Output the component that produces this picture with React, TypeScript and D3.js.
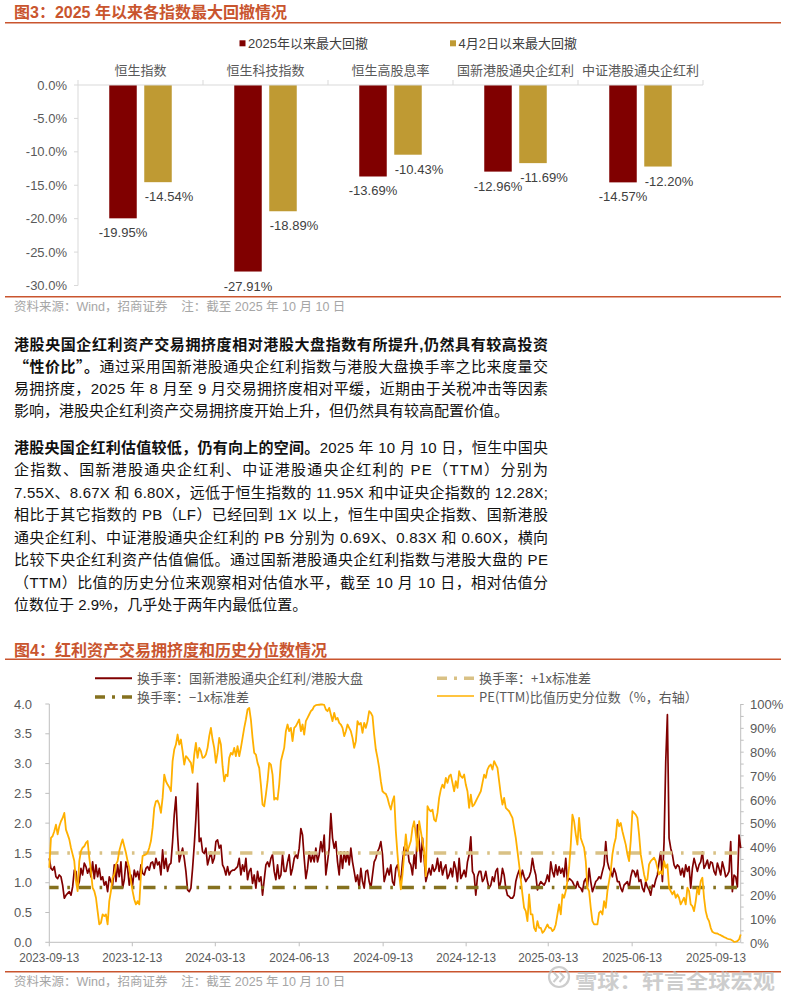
import React from 'react';
import * as d3 from 'd3';

// ---------- Figure 3 data ----------
const categories = ['恒生指数', '恒生科技指数', '恒生高股息率', '国新港股通央企红利', '中证港股通央企红利'];
const drawdownSince2025 = [-19.95, -27.91, -13.69, -12.96, -14.57];
const drawdownSinceApr2 = [-14.54, -18.89, -10.43, -11.69, -12.2];
const barSeriesNames = ['2025年以来最大回撤', '4月2日以来最大回撤'];
const barTicks = [0, -5, -10, -15, -20, -25, -30];

// ---------- Figure 4 data ----------
const startDate = '2023-09-13';
const endDate = '2025-10-10';
const dateTicks = ['2023-09-13', '2023-12-13', '2024-03-13', '2024-06-13', '2024-09-13', '2024-12-13', '2025-03-13', '2025-06-13', '2025-09-13'];
const leftTicks = [0, 0.5, 1, 1.5, 2, 2.5, 3, 3.5, 4];
const rightTicks = [0, 10, 20, 30, 40, 50, 60, 70, 80, 90, 100];
const plusOneStd = 1.5;
const minusOneStd = 0.92;
const legend4 = ['换手率：国新港股通央企红利/港股大盘', '换手率：+1x标准差', '换手率：−1x标准差', 'PE(TTM)比值历史分位数（%，右轴）'];

// turnover ratio (left axis), evenly spaced from startDate to endDate
const turnoverRatio = [
  1.41, 1.24, 1.21, 1.27, 1.10, 1.07, 1.13, 1.10, 0.96, 0.74,
  0.79, 0.82, 0.85, 0.79, 0.93, 1.21, 1.19, 0.93, 1.02, 1.24,
  1.13, 1.33, 1.27, 1.16, 1.24, 1.10, 1.35, 1.07, 1.30, 1.10,
  1.24, 1.05, 1.10, 0.96, 1.02, 0.85, 1.10, 1.02, 0.96, 1.30,
  1.02, 1.30, 1.10, 1.35, 0.91, 1.05, 1.35, 1.24, 0.96, 1.13,
  0.96, 1.21, 1.10, 1.19, 1.05, 1.30, 1.16, 1.13, 1.24, 1.27,
  1.21, 1.33, 1.35, 1.24, 1.41, 1.30, 1.35, 1.13, 1.55, 1.24,
  1.41, 1.19, 1.30, 1.33, 1.69, 2.14, 2.44, 1.80, 1.35, 1.47,
  1.58, 1.41, 1.19, 0.88, 0.85, 0.91, 1.24, 1.63, 2.08, 2.67,
  1.69, 1.75, 1.52, 1.49, 1.58, 1.30, 1.41, 1.52, 1.33, 1.41,
  1.69, 1.72, 1.58, 1.63, 1.30, 1.24, 1.13, 1.27, 1.13, 1.19,
  1.21, 1.21, 1.24, 1.27, 1.41, 1.13, 1.30, 1.19, 1.41, 1.05,
  1.19, 1.24, 0.99, 1.13, 0.91, 1.19, 1.02, 1.10, 0.79, 1.05,
  1.30, 1.35, 1.27, 1.41, 1.47, 1.19, 1.05, 1.30, 1.07, 1.13,
  1.47, 1.19,
  1.19, 1.35, 1.47, 1.13, 1.24, 1.41, 1.47, 1.41, 1.58, 1.91,
  1.80, 1.41, 1.07, 1.24, 1.52, 1.35, 1.47, 1.35, 1.58, 1.35,
  1.47, 1.69, 1.52, 1.80, 1.13, 1.35, 1.58, 2.16, 1.75, 1.58,
  1.69, 1.35, 1.13, 1.52, 1.24, 1.52, 1.35, 1.52, 1.30, 1.58,
  1.35, 1.19, 1.02, 1.13, 0.91, 1.24, 1.02, 0.91, 1.19, 1.21,
  1.02, 0.91, 1.13, 1.35, 1.41, 1.52, 1.58, 1.69, 1.47, 1.02,
  1.13, 1.24, 1.13, 1.30, 1.02, 0.96, 1.24, 1.30, 1.13, 1.02,
  1.35, 1.60, 1.47, 1.58, 1.35, 1.30, 1.13, 1.47, 1.24, 1.97,
  1.69, 1.35, 1.75, 1.41, 1.02, 1.13, 1.24, 1.13, 1.30, 1.19,
  1.24, 1.41, 1.19, 1.35, 1.13, 1.24, 1.30, 1.07, 1.13, 1.24,
  1.10, 1.35, 1.24, 1.02, 1.41, 1.07, 1.13, 1.21, 1.10, 1.35,
  1.47, 1.77, 1.19, 1.13, 0.79, 1.10, 1.19, 1.19, 1.02, 1.07,
  1.19, 1.02, 0.91, 0.96, 1.10, 1.02, 1.19, 1.24, 0.91, 1.02,
  1.24, 1.13, 0.91, 0.79, 0.77, 0.74, 0.74, 0.79, 1.02, 1.13,
  1.21,
  1.07, 1.21, 1.10, 1.02, 1.07, 1.10, 1.19, 1.41, 1.24, 1.13,
  0.88, 0.96, 1.02, 0.99, 0.96, 1.02, 1.13, 1.02, 1.35, 1.19,
  1.10, 1.30, 1.13, 1.27, 1.16, 1.24, 1.10, 1.41, 1.02, 1.07,
  1.05, 1.02, 0.96, 0.91, 1.02, 0.93, 0.91, 0.85, 1.02, 1.07,
  0.93, 1.24, 1.02, 0.85, 0.93, 1.02, 1.05, 1.10, 1.07, 1.19,
  1.30, 1.69, 1.35, 1.24, 1.19, 1.10, 1.24, 1.16, 1.02, 1.02,
  0.91, 0.85, 0.96, 0.99, 1.02, 0.91, 1.10, 1.21, 1.19, 1.10,
  1.21, 1.02, 1.05, 0.91, 0.85, 1.02, 0.93, 0.88, 0.79, 0.96,
  0.93, 1.05, 1.13, 1.35, 1.52, 1.02, 1.69, 3.03, 3.82, 1.75,
  1.58, 1.47, 1.30, 1.24, 1.30, 1.27, 1.13, 1.24, 1.10, 1.30,
  1.19, 1.27, 0.91, 1.24, 1.41, 1.30, 1.19, 1.30, 1.35, 1.52,
  1.24, 1.30, 1.38, 1.24, 1.35, 1.33, 1.19, 1.13, 1.33, 1.24,
  1.13, 1.35, 1.24, 1.10, 1.13, 1.19, 1.69, 0.85, 1.13, 1.10,
  0.93, 1.80, 1.58,
];

// PE(TTM) ratio historical percentile (right axis, %), evenly spaced
const pePercentile = [
  31.5, 44.0, 44.8, 46.8, 49.6, 45.5, 48.9, 51.0, 52.4, 54.5,
  47.5, 45.5, 43.4, 39.9, 37.1, 34.3, 25.9, 21.7, 34.3, 38.5,
  39.9, 40.5, 41.9, 42.7, 35.7, 30.1, 23.1, 21.7, 18.9, 13.3,
  7.7, 8.4, 11.9, 11.2, 11.9, 7.7, 17.5, 21.7, 27.3, 28.7,
  32.9, 34.3, 38.5, 41.2, 43.4, 40.5, 37.8, 34.3, 31.5, 25.9,
  21.7, 18.2, 16.1, 17.5, 16.1, 28.7, 36.4, 36.8, 37.1, 37.8,
  39.9, 42.7, 48.2, 56.6, 59.4, 59.7, 58.0, 54.5, 60.8, 70.6,
  67.8, 66.4, 65.3, 63.6, 76.2, 81.1, 83.2, 87.4, 83.2, 85.3,
  80.4, 74.8, 78.3, 77.6, 76.5, 75.5, 71.3, 79.0, 83.9, 77.6,
  81.8, 80.4, 77.6, 77.9, 79.0, 81.8, 86.7, 90.2, 85.3, 81.8,
  75.5, 79.7, 86.0, 83.2, 74.1, 67.8, 70.6, 69.9, 77.6, 79.7,
  79.0, 81.8, 78.3, 82.5, 78.3, 81.8, 86.0, 90.2, 93.7, 97.9,
  98.6, 93.7, 86.0, 79.7, 79.0, 75.5, 73.4, 66.4, 58.0, 57.3,
  62.2, 67.8, 75.5, 74.8, 70.6, 60.1, 60.8, 60.1, 66.4, 76.2,
  79.0, 81.8,
  88.8, 91.6, 88.8, 90.2, 84.6, 90.2, 90.9, 92.3, 93.7, 88.8,
  91.6, 87.4, 93.0, 94.4, 95.8, 97.2, 97.9, 99.3, 99.7, 99.8,
  99.9, 100, 100, 99.8, 97.9, 97.2, 98.6, 95.8, 93.0, 96.5,
  93.7, 94.4, 92.3, 91.6, 90.2, 86.7, 88.8, 91.6, 90.2, 88.8,
  86.0, 81.8, 84.6, 93.0, 91.6, 92.3, 88.1, 92.3, 90.2, 93.0,
  97.2, 96.5, 95.1, 87.4, 81.1, 77.6, 73.4, 67.8, 63.6, 62.9,
  62.5, 60.8, 58.0, 55.9, 59.4, 61.5, 46.8, 37.1, 28.7, 22.4,
  28.7, 37.1, 45.5, 38.5, 40.5, 42.7, 48.2, 51.0, 45.5, 38.5,
  51.0, 46.8, 42.7, 38.5, 28.0, 57.3, 55.9, 55.2, 55.9, 51.7,
  51.0, 54.5, 60.8, 64.3, 66.4, 65.0, 69.2, 67.1, 69.9, 70.6,
  67.1, 63.6, 67.8, 65.0, 72.0, 69.9, 69.2, 70.6, 66.4, 63.6,
  56.6, 62.2, 57.3, 58.0, 59.4, 60.8, 62.2, 63.6, 67.1, 70.6,
  69.2, 72.7, 74.1, 74.8, 72.7, 76.2, 74.8, 73.4, 67.8, 62.2,
  58.0, 60.8, 56.6, 55.9, 55.2, 53.8, 52.4, 48.2, 44.0, 38.5,
  32.9,
  26.6, 20.3, 14.7, 13.3, 9.1, 20.3, 11.9, 11.9, 6.3, 4.9,
  9.1, 6.3, 6.3, 4.2, 4.9, 6.3, 7.7, 6.3, 6.3, 4.9,
  5.6, 7.7, 11.9, 16.1, 11.9, 20.3, 18.9, 21.7, 25.9, 31.5,
  41.2, 53.8, 51.0, 45.5, 41.2, 52.4, 44.0, 41.9, 39.9, 34.3,
  23.1, 21.7, 14.7, 9.1, 7.7, 7.7, 7.7, 12.6, 13.3, 11.9,
  17.5, 14.7, 21.7, 25.9, 30.1, 37.1, 41.2, 44.0, 51.7, 48.9,
  50.3, 46.8, 44.0, 41.2, 37.1, 34.3, 42.7, 55.2, 54.5, 53.8,
  52.4, 45.5, 37.1, 32.9, 28.7, 25.9, 26.6, 32.9, 34.3, 35.0,
  35.7, 34.3, 31.5, 28.7, 30.1, 28.7, 34.3, 31.5, 32.9, 23.1,
  21.7, 20.3, 21.7, 18.9, 20.3, 18.9, 16.1, 17.5, 18.9, 16.1,
  23.1, 21.7, 16.1, 15.4, 13.3, 17.5, 23.1, 20.3, 25.9, 27.3,
  18.9, 13.3, 10.5, 9.1, 6.3, 4.6, 4.2, 4.0, 3.9, 3.5,
  3.2, 2.8, 2.4, 2.1, 1.7, 1.5, 1.4, 1.0, 0.4, 0.5,
  0.7, 1.4, 3.5,
];

// ---------- Text ----------
type Seg = { t: string; b?: boolean; q?: boolean };
const para1: Seg[][] = [
  [{ t: '港股央国企红利资产交易拥挤度相对港股大盘指数有所提升,仍然具有较高投资', b: true }],
  [{ t: '“性价比”。', b: true, q: true }, { t: '通过采用国新港股通央企红利指数与港股大盘换手率之比来度量交' }],
  [{ t: '易拥挤度，2025 年 8 月至 9 月交易拥挤度相对平缓，近期由于关税冲击等因素' }],
  [{ t: '影响，港股央企红利资产交易拥挤度开始上升，但仍然具有较高配置价值。' }],
];
const para2: Seg[][] = [
  [{ t: '港股央国企红利估值较低，仍有向上的空间。', b: true }, { t: '2025 年 10 月 10 日，恒生中国央' }],
  [{ t: '企指数、国新港股通央企红利、中证港股通央企红利的 PE（TTM）分别为' }],
  [{ t: '7.55X、8.67X 和 6.80X，远低于恒生指数的 11.95X 和中证央企指数的 12.28X;' }],
  [{ t: '相比于其它指数的 PB（LF）已经回到 1X 以上，恒生中国央企指数、国新港股' }],
  [{ t: '通央企红利、中证港股通央企红利的 PB 分别为 0.69X、0.83X 和 0.60X，横向' }],
  [{ t: '比较下央企红利资产估值偏低。通过国新港股通央企红利指数与港股大盘的 PE' }],
  [{ t: '（TTM）比值的历史分位来观察相对估值水平，截至 10 月 10 日，相对估值分' }],
  [{ t: '位数位于 2.9%，几乎处于两年内最低位置。' }],
];

const SANS = "'Liberation Sans', Arial, 'Noto Sans CJK SC', sans-serif";
const CJK = "'Noto Sans CJK SC', 'Liberation Sans', sans-serif";
const ACCENT = '#C9552E';
const RED = '#800000';
const GOLD = '#BF9A33';
const ORANGE = '#FFB000';
const KHAKI = '#D9C185';
const OLIVE = '#85711F';
const AXIS = '#BFBFBF';
const TICKTXT = '#595959';

function Paragraph({ lines, y0, step, justifyLast }: { lines: Seg[][]; y0: number; step: number; justifyLast?: boolean }) {
  return (
    <g>
      {lines.map((segs, i) => {
        const justify = i < lines.length - 1 || justifyLast;
        return (
          <text
            key={i}
            x={14}
            y={y0 + i * step}
            fontSize={15}
            fontFamily={SANS}
            fill="#111"
            {...(justify ? { textLength: 534, lengthAdjust: 'spacing' } : {})}
          >
            {segs.map((s, j) => (
              <tspan key={j} fontWeight={s.b ? 700 : 400} fontFamily={s.q ? CJK : SANS}>
                {s.t}
              </tspan>
            ))}
          </text>
        );
      })}
    </g>
  );
}

function Figure3() {
  const left = 78, right = 703, top = 85, bottom = 285.5;
  const y = d3.scaleLinear().domain([-30, 0]).range([bottom, top]);
  const x = d3.scaleBand<string>().domain(categories).range([left, right]);
  const bw = x.bandwidth() * 0.22;
  const gap = x.bandwidth() * 0.06;
  const series = [drawdownSince2025, drawdownSinceApr2];
  const colors = [RED, GOLD];
  const fmt = (v: number) => `${v.toFixed(2)}%`;
  return (
    <g>
      <text x={14} y={18} fontSize={16} fontWeight={700} fill={ACCENT} fontFamily={SANS}>图3：2025 年以来各指数最大回撤情况</text>
      <line x1={5} x2={781} y1={22.7} y2={22.7} stroke={ACCENT} strokeWidth={1.5} />
      {/* legend */}
      {barSeriesNames.map((n, i) => {
        const lx = i === 0 ? 239.5 : 450;
        return (
          <g key={n}>
            <rect x={lx} y={40.3} width={6} height={6} fill={colors[i]} />
            <text x={lx + 8.5} y={48} fontSize={13} fill="#404040" fontFamily={SANS}>{n}</text>
          </g>
        );
      })}
      {/* category labels */}
      {categories.map((c) => (
        <text key={c} x={x(c)! + x.bandwidth() / 2} y={74.5} fontSize={13} fill="#595959" textAnchor="middle" fontFamily={CJK}>{c}</text>
      ))}
      {/* y axis */}
      <line x1={left} x2={left} y1={top} y2={bottom} stroke="#D9D9D9" />
      {barTicks.map((t) => (
        <g key={t}>
          <line x1={left - 4} x2={left} y1={y(t)} y2={y(t)} stroke="#D9D9D9" />
          <text x={67} y={y(t) + 4.6} fontSize={13} fill={TICKTXT} textAnchor="end" fontFamily={SANS}>{`${t.toFixed(1)}%`}</text>
        </g>
      ))}
      {/* bars */}
      {categories.map((c, ci) => {
        const cx = x(c)! + x.bandwidth() / 2;
        return series.map((s, si) => {
          const bx = si === 0 ? cx - gap / 2 - bw : cx + gap / 2;
          const yb = y(s[ci]);
          return (
            <g key={`${c}-${si}`}>
              <rect x={bx} y={y(0)} width={bw} height={yb - y(0)} fill={colors[si]} />
              <text
                x={bx + bw / 2 + (si === 1 ? 11 : 0)}
                y={yb + 19}
                fontSize={13}
                fill="#404040"
                textAnchor="middle"
                fontFamily={SANS}
              >
                {fmt(s[ci])}
              </text>
            </g>
          );
        });
      })}
      {/* category axis at zero */}
      <line x1={left} x2={right} y1={y(0)} y2={y(0)} stroke="#D9D9D9" />
      {d3.range(categories.length + 1).map((i) => {
        const bx = left + i * x.step();
        return <line key={i} x1={bx} x2={bx} y1={y(0) - 5} y2={y(0)} stroke="#D9D9D9" />;
      })}
      <line x1={5} x2={781} y1={296.7} y2={296.7} stroke={ACCENT} strokeWidth={1.5} />
      <text x={14} y={311} fontSize={12.5} fill="#A6A6A6" fontFamily={SANS} xmlSpace="preserve">资料来源：Wind，招商证券    注：截至 2025 年 10 月 10 日</text>
    </g>
  );
}

function Figure4() {
  const left = 49.3, right = 740.7, top = 704, bottom = 942.3;
  const parse = d3.timeParse('%Y-%m-%d');
  const d0 = parse(startDate)!, d1 = parse(endDate)!;
  const x = d3.scaleTime().domain([d0, d1]).range([left, right]);
  const yL = d3.scaleLinear().domain([0, 4]).range([bottom, top]);
  const yR = d3.scaleLinear().domain([0, 100]).range([bottom + 0.5, top + 0.5]);
  const dateAt = (i: number, n: number) => new Date(d0.getTime() + ((d1.getTime() - d0.getTime()) * i) / (n - 1));
  const redLine = d3
    .line<number>()
    .x((_, i) => x(dateAt(i, turnoverRatio.length)))
    .y((d) => yL(d));
  const orangeLine = d3
    .line<number>()
    .x((_, i) => x(dateAt(i, pePercentile.length)))
    .y((d) => yR(Math.min(100, d)));
  const dash = '12.3,8.7,2.6,8.7';
  return (
    <g>
      <text x={14} y={656} fontSize={16} fontWeight={700} fill={ACCENT} fontFamily={SANS}>图4：红利资产交易拥挤度和历史分位数情况</text>
      <line x1={5} x2={781} y1={659.3} y2={659.3} stroke={ACCENT} strokeWidth={1.5} />
      {/* legend */}
      <line x1={95} x2={132} y1={678.3} y2={678.3} stroke={RED} strokeWidth={2} />
      <text x={137} y={682.8} fontSize={13} fill="#595959" fontFamily={CJK}>{legend4[0]}</text>
      <line x1={437} x2={474} y1={678.3} y2={678.3} stroke={KHAKI} strokeWidth={3.5} strokeDasharray="10,7,3,7" />
      <text x={479} y={682.8} fontSize={13} fill="#595959" fontFamily={CJK}>{legend4[1]}</text>
      <line x1={95} x2={132} y1={697} y2={697} stroke={OLIVE} strokeWidth={3.5} strokeDasharray="10,7,3,7" />
      <text x={137} y={701.7} fontSize={13} fill="#595959" fontFamily={CJK}>{legend4[2]}</text>
      <line x1={437} x2={474} y1={696} y2={696} stroke={ORANGE} strokeWidth={1.5} />
      <text x={479} y={701.7} fontSize={13} fill="#595959" fontFamily={CJK}>{legend4[3]}</text>

      {/* axes */}
      <line x1={left} x2={left} y1={top} y2={bottom} stroke={AXIS} />
      {leftTicks.map((t) => (
        <g key={t}>
          <line x1={left - 4} x2={left} y1={yL(t)} y2={yL(t)} stroke={AXIS} />
          <text x={32} y={yL(t) + 4.7} fontSize={13} fill={TICKTXT} textAnchor="end" fontFamily={SANS}>{t.toFixed(1)}</text>
        </g>
      ))}
      <line x1={right} x2={right} y1={top} y2={bottom} stroke={AXIS} />
      {d3.range(0, 101, 5).map((t) => (
        <line key={t} x1={right} x2={right + 3} y1={yR(t)} y2={yR(t)} stroke={AXIS} />
      ))}
      {rightTicks.map((t) => (
        <text key={t} x={750} y={yR(t) + 4.7} fontSize={13} fill={TICKTXT} fontFamily={SANS}>{`${t}%`}</text>
      ))}
      <line x1={left} x2={right} y1={bottom} y2={bottom} stroke={AXIS} />
      {dateTicks.map((t) => {
        const tx = x(parse(t)!);
        return (
          <g key={t}>
            <line x1={tx} x2={tx} y1={bottom} y2={bottom + 4} stroke={AXIS} />
            <text x={tx} y={961.5} fontSize={13} fill={TICKTXT} textAnchor="middle" fontFamily={SANS} textLength={60} lengthAdjust="spacingAndGlyphs">{t}</text>
          </g>
        );
      })}

      {/* series */}
      <path d={redLine(turnoverRatio)!} fill="none" stroke={RED} strokeWidth={1.7} strokeLinejoin="round" />
      <line x1={left} x2={right} y1={yL(plusOneStd)} y2={yL(plusOneStd)} stroke={KHAKI} strokeWidth={3.5} strokeDasharray={dash} strokeDashoffset={3} />
      <line x1={left} x2={right} y1={yL(minusOneStd)} y2={yL(minusOneStd)} stroke={OLIVE} strokeWidth={3.5} strokeDasharray={dash} strokeDashoffset={3} />
      <path d={orangeLine(pePercentile)!} fill="none" stroke={ORANGE} strokeWidth={1.8} strokeLinejoin="round" />

      <line x1={5} x2={781} y1={971.7} y2={971.7} stroke={ACCENT} strokeWidth={1.5} />
      <text x={14} y={986} fontSize={12.5} fill="#A6A6A6" fontFamily={SANS} xmlSpace="preserve">资料来源：Wind，招商证券    注：截至 2025 年 10 月 10 日</text>
      {/* watermark */}
      <g opacity={0.75}>
        <circle cx={559} cy={977} r={10} fill="none" stroke="#BDBDBD" strokeWidth={2.2} />
        <path d="M553.5,972 L558,977 L553.5,982 M559.5,972 L564,977 L559.5,982" fill="none" stroke="#BDBDBD" strokeWidth={2} />
        <text x={575} y={988.5} fontSize={20} fontWeight={700} fill="#BDBDBD" fontFamily={CJK} textLength={200} lengthAdjust="spacingAndGlyphs">雪球：轩言全球宏观</text>
      </g>
    </g>
  );
}

export default function App() {
  return (
    <svg width={800} height={1000} viewBox="0 0 800 1000" style={{ position: 'absolute', left: 0, top: 0, background: '#fff' }}>
      <rect x={0} y={0} width={800} height={1000} fill="#fff" />
      <Figure3 />
      <Paragraph lines={para1} y0={349.5} step={22.3} />
      <Paragraph lines={para2} y0={452.5} step={22.5} />
      <Figure4 />
    </svg>
  );
}
